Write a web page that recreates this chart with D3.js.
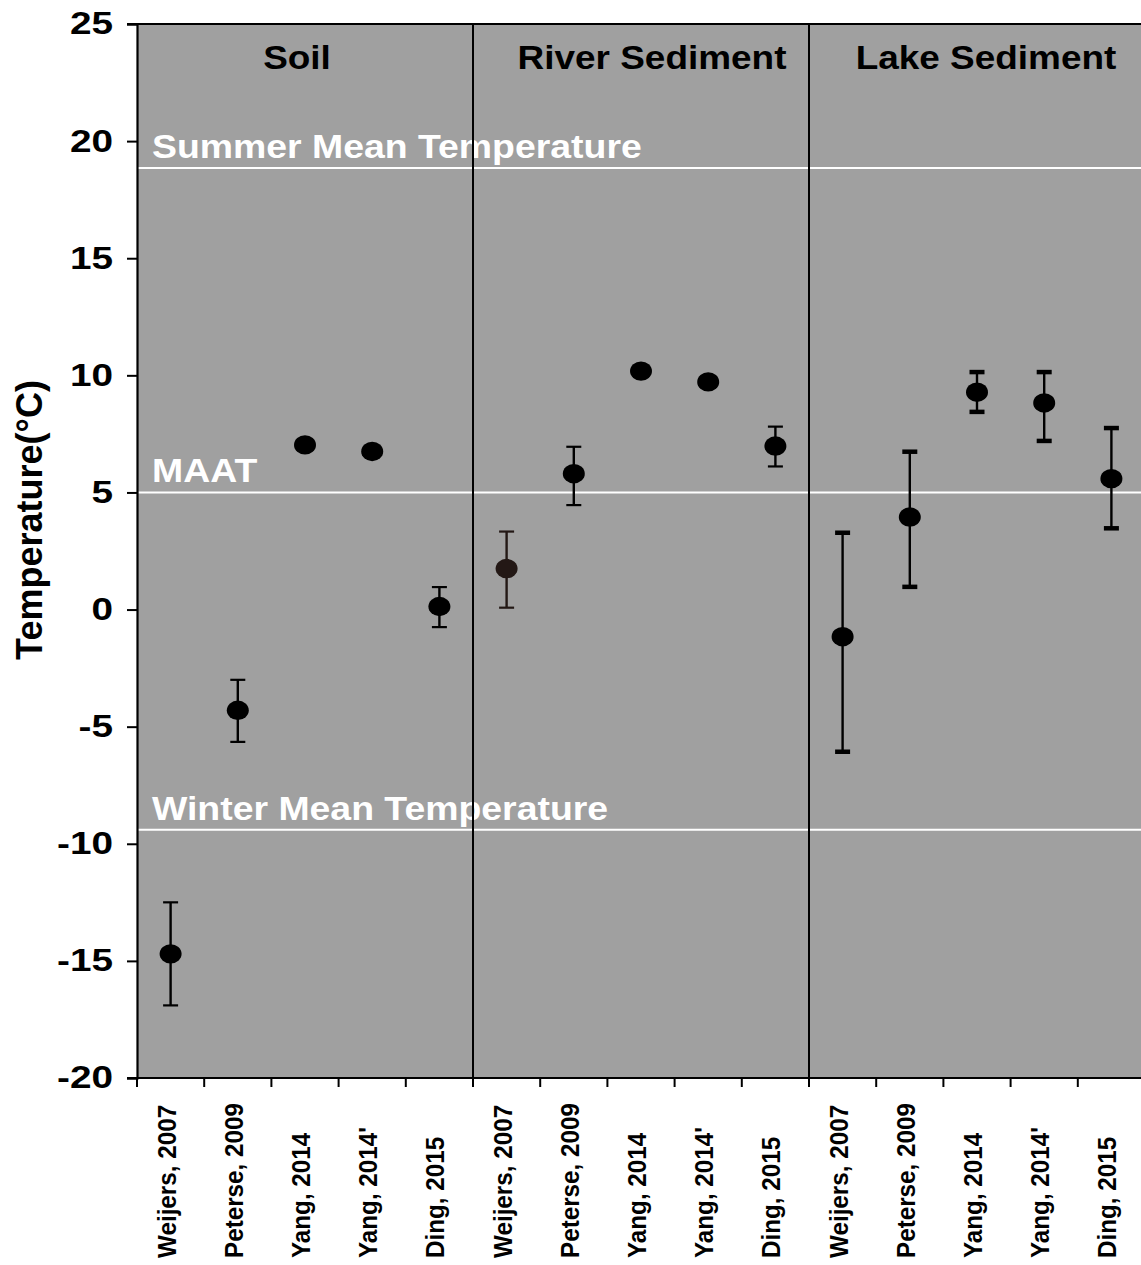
<!DOCTYPE html>
<html>
<head>
<meta charset="utf-8">
<script src="https://cdn.jsdelivr.net/npm/d3@7"></script>
<style>
  html, body { margin: 0; padding: 0; background: #fff; }
  text { font-family: "Liberation Sans", Arial, sans-serif; font-weight: bold; }
</style>
</head>
<body>
<svg id="chart" width="1141" height="1265"></svg>
<script>
// ---- data ----
const panels = ["Soil", "River Sediment", "Lake Sediment"];
const studies = ["Weijers, 2007", "Peterse, 2009", "Yang, 2014", "Yang, 2014'", "Ding, 2015"];

const soilMean  = [-14.7, -4.3, 7.03, 6.75, 0.13];
const soilLow   = [-16.9, -5.65, null, null, -0.75];
const soilHigh  = [-12.5, -3.0, null, null, 0.96];

const riverMean = [1.75, 5.8, 10.18, 9.72, 6.98];
const riverLow  = [0.08, 4.46, null, null, 6.11];
const riverHigh = [3.33, 6.95, null, null, 7.81];

const lakeMean  = [-1.16, 3.95, 9.28, 8.82, 5.59];
const lakeLow   = [-6.06, 0.98, 8.45, 7.21, 3.48];
const lakeHigh  = [3.29, 6.75, 10.15, 10.15, 7.76];

const refValues = [18.85, 5.0, -9.4];
const refLabels = ["Summer Mean Temperature", "MAAT", "Winter Mean Temperature"];

const yTicks = [25, 20, 15, 10, 5, 0, -5, -10, -15, -20];
const yLabel = "Temperature(°C)";

// ---- build records ----
const series = [
  {panel: panels[0], mean: soilMean, low: soilLow, high: soilHigh, cap: "line"},
  {panel: panels[1], mean: riverMean, low: riverLow, high: riverHigh, cap: "line"},
  {panel: panels[2], mean: lakeMean, low: lakeLow, high: lakeHigh, cap: "rect"}
];
const records = [];
series.forEach(s => studies.forEach((st, i) => {
  records.push({key: s.panel + "|" + st, panel: s.panel, study: st,
    mean: s.mean[i], low: s.low[i], high: s.high[i], cap: s.cap,
    color: (s.panel === "River Sediment" && i === 0) ? "#231815" : "#000"});
}));

// ---- layout ----
const pLeft = 137, pRight = 1145, pTop = 24, pBottom = 1078;
const svg = d3.select("#chart");

const x = d3.scaleBand().domain(records.map(d => d.key)).range([pLeft, pRight]).padding(0);
const y = d3.scaleLinear().domain([-20, 25]).range([pBottom, pTop]);

// background
svg.append("rect").attr("x", pLeft).attr("y", pTop)
  .attr("width", pRight - pLeft).attr("height", pBottom - pTop).attr("fill", "#a0a0a0");

// reference lines
const refG = svg.append("g");
refValues.forEach((v, i) => {
  refG.append("line").attr("x1", pLeft).attr("x2", pRight)
    .attr("y1", y(v)).attr("y2", y(v)).attr("stroke", "#fff").attr("stroke-width", 2);
  refG.append("text")
    .attr("transform", `translate(${pLeft + 15},${y(v) - 10}) scale(1.1,1)`)
    .attr("font-size", 34).attr("fill", "#fff").text(refLabels[i]);
});

// panel separators
const panelStart = panels.map(p => x(p + "|" + studies[0]));
panelStart.slice(1).forEach(px => {
  svg.append("line").attr("x1", px).attr("x2", px).attr("y1", pTop).attr("y2", pBottom + 9)
    .attr("stroke", "#000").attr("stroke-width", 2);
});

// panel titles
const titleOffsets = [-8, 11, 9];
panels.forEach((p, i) => {
  const x0 = x(p + "|" + studies[0]);
  const x1 = x(p + "|" + studies[studies.length - 1]) + x.bandwidth();
  svg.append("text")
    .attr("transform", `translate(${(x0 + x1) / 2 + titleOffsets[i]},69) scale(1.12,1)`)
    .attr("text-anchor", "middle").attr("font-size", 33).attr("fill", "#000").text(p);
});

// y axis
const yAxis = d3.axisLeft(y).tickValues(yTicks).tickSize(10).tickPadding(14).tickFormat(d => String(d));
const yg = svg.append("g").attr("transform", `translate(${pLeft},0)`).call(yAxis);
yg.select(".domain").attr("stroke-width", 2.2);
yg.selectAll(".tick line").attr("stroke-width", 2);
yg.selectAll(".tick text").attr("font-size", 31).attr("fill", "#000")
  .attr("font-family", "Liberation Sans, Arial, sans-serif").attr("font-weight", "bold")
  .attr("transform", "scale(1.25,1)").attr("x", -24 / 1.25);

// top border
svg.append("line").attr("x1", pLeft - 10).attr("x2", pRight).attr("y1", pTop).attr("y2", pTop)
  .attr("stroke", "#000").attr("stroke-width", 2.2);

// x axis
const xAxis = d3.axisBottom(x).tickSize(0).tickFormat("");
const xg = svg.append("g").attr("transform", `translate(0,${pBottom})`).call(xAxis);
xg.select(".domain").attr("stroke-width", 2.2).attr("d", `M${pLeft - 10},0H${pRight}`);
const boundaries = records.map(d => x(d.key));
xg.selectAll("line.bt").data(boundaries).enter().append("line").attr("class", "bt")
  .attr("x1", d => d).attr("x2", d => d).attr("y1", 0).attr("y2", 9)
  .attr("stroke", "#000").attr("stroke-width", 2);

// category labels
svg.append("g").selectAll("text").data(records).enter().append("text")
  .attr("transform", d => `translate(${x(d.key) + x.bandwidth() / 2 + 5},1258) rotate(-90) scale(0.97,1)`)
  .attr("text-anchor", "start").attr("font-size", 25).attr("fill", "#000")
  .text(d => d.study);

// error bars
const eb = svg.append("g");
records.filter(d => d.low !== null).forEach(d => {
  const cx = x(d.key) + x.bandwidth() / 2;
  eb.append("line").attr("x1", cx).attr("x2", cx).attr("y1", y(d.low)).attr("y2", y(d.high))
    .attr("stroke", d.color).attr("stroke-width", 2.4);
  [d.low, d.high].forEach(v => {
    if (d.cap === "rect") {
      eb.append("rect").attr("x", cx - 7.5).attr("y", y(v) - 2).attr("width", 15).attr("height", 4.5)
        .attr("fill", d.color);
    } else {
      eb.append("line").attr("x1", cx - 7.5).attr("x2", cx + 7.5).attr("y1", y(v)).attr("y2", y(v))
        .attr("stroke", d.color).attr("stroke-width", 2.2);
    }
  });
});

// points
svg.append("g").selectAll("ellipse").data(records).enter().append("ellipse")
  .attr("cx", d => x(d.key) + x.bandwidth() / 2).attr("cy", d => y(d.mean))
  .attr("rx", 11).attr("ry", 9.7).attr("fill", d => d.color);

// y axis title
svg.append("text").attr("transform", "translate(42,520) rotate(-90)")
  .attr("text-anchor", "middle").attr("font-size", 36).attr("fill", "#000").text(yLabel);
</script>
</body>
</html>
